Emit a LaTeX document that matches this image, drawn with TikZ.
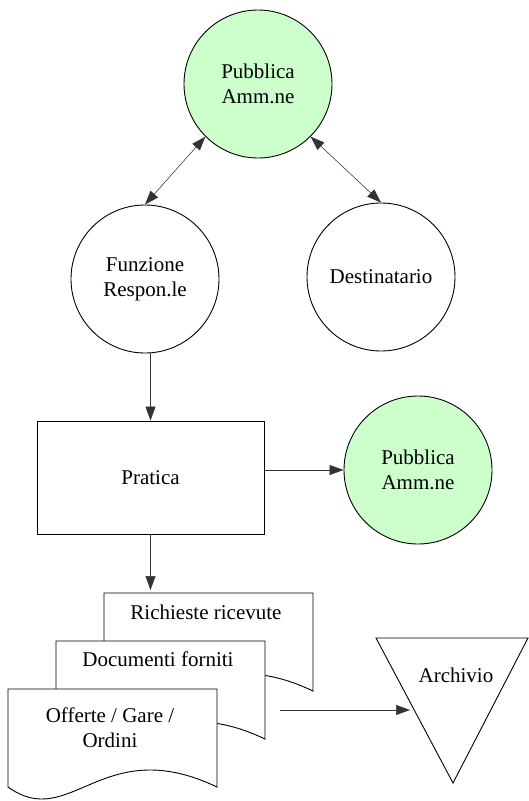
\documentclass[tikz,border=0pt]{standalone}
\usepackage{fontspec}
\setmainfont{Liberation Serif}
\usetikzlibrary{arrows.meta}
\definecolor{paleGreen}{HTML}{CCFFCC}
\begin{document}
\begin{tikzpicture}[x=1pt,y=-1pt,
  every node/.style={font=\fontsize{21}{25}\selectfont, align=center},
  outline/.style={draw=black, line width=0.9pt},
  entity/.style={circle, outline, minimum size=148pt, inner sep=0pt},
  agency/.style={entity, fill=paleGreen},
  process/.style={rectangle, outline, minimum width=227pt, minimum height=113pt},
  head/.style={Triangle[length=14pt,width=10pt]},
  link/.style={draw=black!80, line width=0.55pt, -{Triangle[length=14pt,width=10pt]}},
  twoway/.style={draw=black!80, line width=0.55pt, {Triangle[length=14pt,width=10pt]}-{Triangle[length=14pt,width=10pt]}},
  sheet/.style={outline, fill=white},
]
\useasboundingbox (0,0) rectangle (529,801);

% main entities
\node[agency] (pa1) at (258,84) {Pubblica\\Amm.ne};
\node[entity] (funz) at (145,279) {Funzione\\Respon.le};
\node[entity] (dest) at (381,277) {Destinatario};
\node[process] (pratica) at (150.5,477.5) {Pratica};
\node[agency] (pa2) at (418,470) {Pubblica\\Amm.ne};

% stacked document sheets (wavy bottom edge)
\path[sheet] (104,593) -- ++(209,0) -- ++(0,98)
  .. controls +(-115,-55) and +(62.7,45) .. ++(-209,0) -- cycle;
\node (doc1) at (206,612) {Richieste ricevute};
\path[sheet] (56,641) -- ++(209,0) -- ++(0,98)
  .. controls +(-115,-55) and +(62.7,45) .. ++(-209,0) -- cycle;
\node (doc2) at (158,659) {Documenti forniti};
\path[sheet] (8,689) -- ++(209,0) -- ++(0,98)
  .. controls +(-115,-55) and +(62.7,45) .. ++(-209,0) -- cycle;
\node (doc3) at (110,728) {Offerte / Gare /\\Ordini};

% archive (inverted triangle)
\draw[outline] (376,638) -- (528,638) -- (453,783) -- cycle;
\node (archivio) at (456,675) {Archivio};

% connectors
\coordinate (sheetTop) at (150.5,593);
\coordinate (sheetsOut) at (280,710);
\coordinate (archIn) at (410,710);

\draw[twoway] (pa1.225) -- (funz.north);
\draw[twoway] (pa1.-45) -- (dest.north);
\draw[link] (funz.south -| pratica.north) -- (pratica.north);
\draw[link] (pa2.west -| pratica.east) -- (pa2.west);
\draw[link, shorten >=3pt] (pratica.south) -- (sheetTop);
\draw[link] (sheetsOut) -- (archIn);
\end{tikzpicture}
\end{document}
